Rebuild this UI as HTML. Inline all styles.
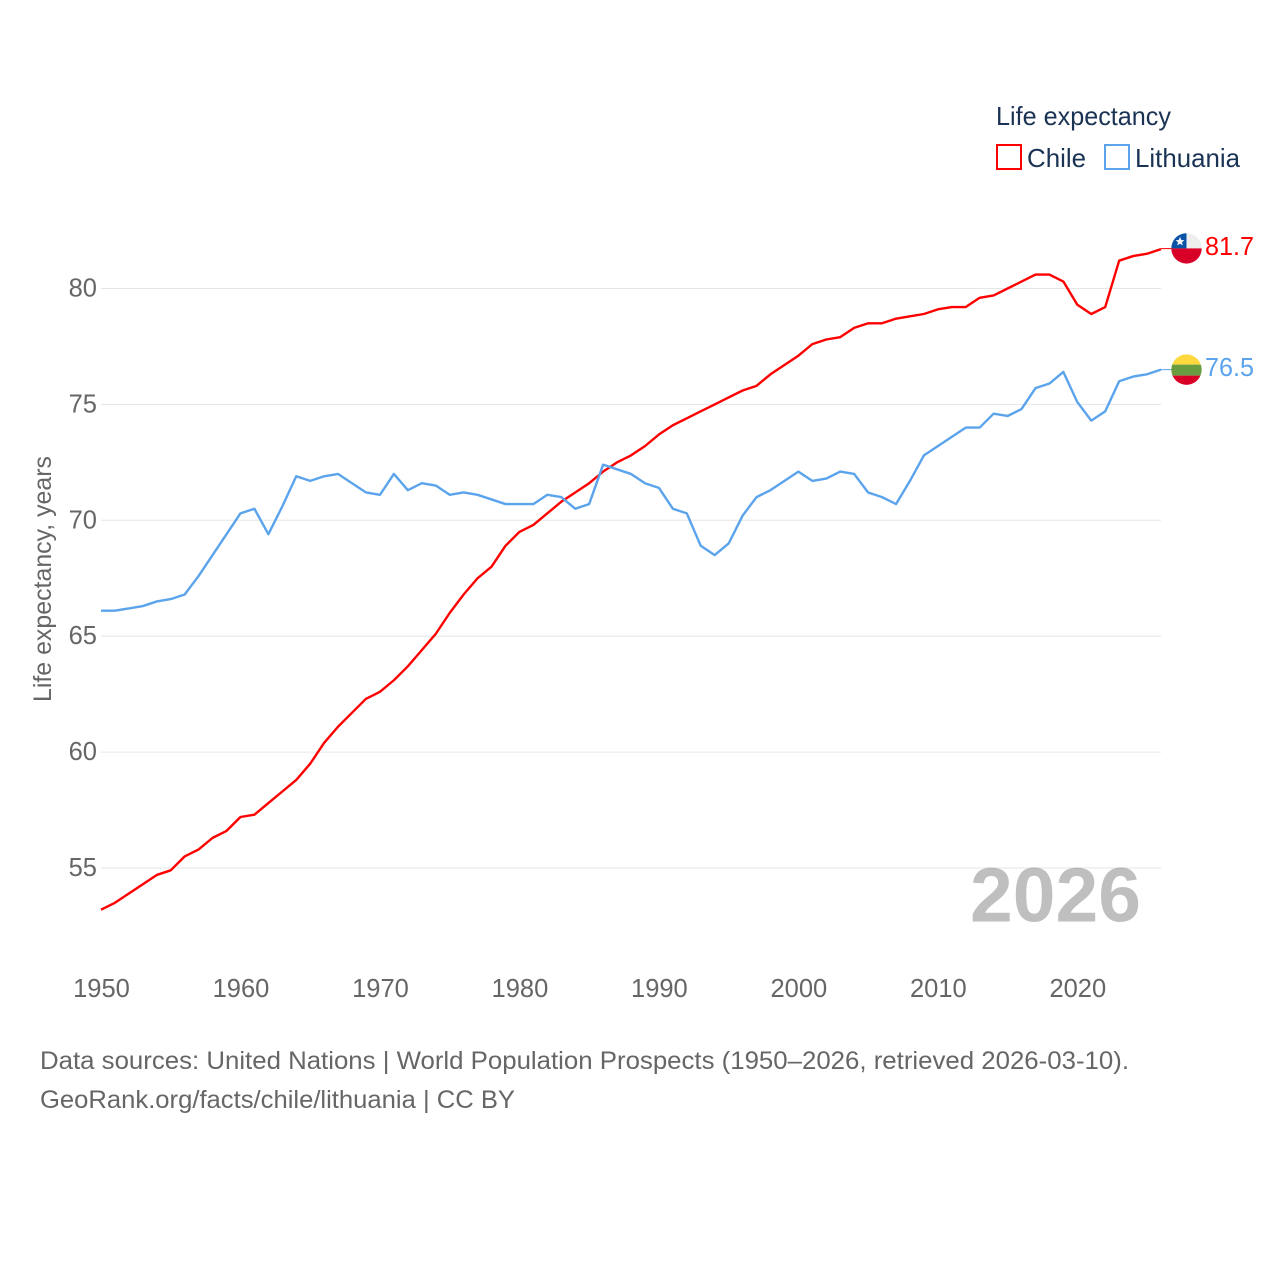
<!DOCTYPE html>
<html lang="en">
<head>
<meta charset="utf-8">
<title>Life expectancy: Chile and Lithuania</title>
<style>
html,body{margin:0;padding:0;background:#fff;}
#chart{display:block;width:1280px;height:1280px;font-family:"Liberation Sans",sans-serif;}
</style>
</head>
<body>
<svg id="chart" xmlns="http://www.w3.org/2000/svg" width="1280" height="1280" viewBox="0 0 1280 1280">
  <defs>
    <clipPath id="flag-clip"><circle cx="0" cy="0" r="15.2"></circle></clipPath>
  </defs>
  <rect x="0" y="0" width="1280" height="1280" fill="#fff"></rect>
  <g id="grid"></g>
  <g id="y-ticks"></g>
  <g id="x-ticks"></g>
  <text transform="translate(51,702) rotate(-90)" font-size="25" fill="#666" textLength="246" lengthAdjust="spacingAndGlyphs">Life expectancy, years</text>
  <text x="970" y="921.5" font-size="77" font-weight="700" fill="#000" fill-opacity="0.25" textLength="171" lengthAdjust="spacingAndGlyphs">2026</text>
  <g id="series"></g>

  <g id="flag-chile">
    <g clip-path="url(#flag-clip)">
      <rect x="-16" y="-16" width="32" height="16" fill="#eeeeee"></rect>
      <rect x="-16" y="-16" width="16" height="16" fill="#0a52a5"></rect>
      <rect x="-16" y="0" width="32" height="16" fill="#d80027"></rect>
      <polygon points="-6.5,-11.5 -5.2,-8.4 -2,-8.2 -4.5,-6.1 -3.7,-3 -6.5,-4.7 -9.3,-3 -8.5,-6.1 -11,-8.2 -7.8,-8.4" fill="#f4f4f4"></polygon>
    </g>
  </g>
  <g id="flag-lithuania">
    <g clip-path="url(#flag-clip)">
      <rect x="-16" y="-16" width="32" height="11" fill="#fdd83f"></rect>
      <rect x="-16" y="-5" width="32" height="11" fill="#6a9d3f"></rect>
      <rect x="-16" y="6" width="32" height="10" fill="#d80027"></rect>
    </g>
  </g>
  <text id="value-chile" x="1205" font-size="26" fill="#ff0000" textLength="49" lengthAdjust="spacingAndGlyphs"></text>
  <text id="value-lithuania" x="1205" font-size="26" fill="#5ba4ec" textLength="49" lengthAdjust="spacingAndGlyphs"></text>

  <g>
    <text x="996" y="125" font-size="26" fill="#1a3354" textLength="175" lengthAdjust="spacingAndGlyphs">Life expectancy</text>
    <g>
      <rect x="997" y="145" width="24" height="24" fill="#fff" stroke="#ff0000" stroke-width="2"></rect>
      <text x="1027" y="167" font-size="26" fill="#1a3354" textLength="59" lengthAdjust="spacingAndGlyphs">Chile</text>
    </g>
    <g>
      <rect x="1105" y="145" width="24" height="24" fill="#fff" stroke="#5ba4ec" stroke-width="2"></rect>
      <text x="1135" y="167" font-size="26" fill="#1a3354" textLength="105" lengthAdjust="spacingAndGlyphs">Lithuania</text>
    </g>
  </g>

  <text x="40" y="1069" font-size="25" fill="#666" textLength="1089" lengthAdjust="spacingAndGlyphs">Data sources: United Nations | World Population Prospects (1950–2026, retrieved 2026-03-10).</text>
  <text x="40" y="1108" font-size="25" fill="#666" textLength="475" lengthAdjust="spacingAndGlyphs">GeoRank.org/facts/chile/lithuania | CC BY</text>
</svg>
<script>
const firstYear = 1950;
const lastYear = 2026;
const xTickLabels = [1950,1960,1970,1980,1990,2000,2010,2020];
const yTickLabels = [55,60,65,70,75,80];
const chileValues = [
53.2,53.5,53.9,54.3,54.7,54.9,55.5,55.8,56.3,56.6,
57.2,57.3,57.8,58.3,58.8,59.5,60.4,61.1,61.7,62.3,
62.6,63.1,63.7,64.4,65.1,66.0,66.8,67.5,68.0,68.9,
69.5,69.8,70.3,70.8,71.2,71.6,72.1,72.5,72.8,73.2,
73.7,74.1,74.4,74.7,75.0,75.3,75.6,75.8,76.3,76.7,
77.1,77.6,77.8,77.9,78.3,78.5,78.5,78.7,78.8,78.9,
79.1,79.2,79.2,79.6,79.7,80.0,80.3,80.6,80.6,80.3,
79.3,78.9,79.2,81.2,81.4,81.5,81.7];
const lithuaniaValues = [
66.1,66.1,66.2,66.3,66.5,66.6,66.8,67.6,68.5,69.4,
70.3,70.5,69.4,70.6,71.9,71.7,71.9,72.0,71.6,71.2,
71.1,72.0,71.3,71.6,71.5,71.1,71.2,71.1,70.9,70.7,
70.7,70.7,71.1,71.0,70.5,70.7,72.4,72.2,72.0,71.6,
71.4,70.5,70.3,68.9,68.5,69.0,70.2,71.0,71.3,71.7,
72.1,71.7,71.8,72.1,72.0,71.2,71.0,70.7,71.7,72.8,
73.2,73.6,74.0,74.0,74.6,74.5,74.8,75.7,75.9,76.4,
75.1,74.3,74.7,76.0,76.2,76.3,76.5];

const NS = 'http://www.w3.org/2000/svg';
const plotLeft = 101, plotRight = 1161;
function xScale(year){ return plotLeft + (year - firstYear) * (plotRight - plotLeft) / (lastYear - firstYear); }
function yScale(value){ return 288.5 + (80 - value) * (868 - 288.5) / 25; }

const gridGroup = document.getElementById('grid');
const yTickGroup = document.getElementById('y-ticks');
const xTickGroup = document.getElementById('x-ticks');
const seriesGroup = document.getElementById('series');

yTickLabels.forEach(function(v){
  const line = document.createElementNS(NS,'line');
  
  
  line.setAttribute('x1', plotLeft);
  line.setAttribute('x2', plotRight);
  line.setAttribute('y1', yScale(v));
  line.setAttribute('y2', yScale(v));
  line.setAttribute('stroke', '#e6e6e6');
  line.setAttribute('stroke-width', '1');
  gridGroup.appendChild(line);
  const t = document.createElementNS(NS,'text');
  
  
  t.setAttribute('x', 97);
  t.setAttribute('y', yScale(v) + 8);
  t.setAttribute('text-anchor', 'end');
  t.setAttribute('font-size', '25.5');
  t.setAttribute('fill', '#666');
  t.textContent = v;
  yTickGroup.appendChild(t);
});

xTickLabels.forEach(function(yr){
  const t = document.createElementNS(NS,'text');
  
  
  t.setAttribute('x', xScale(yr) + 0.5);
  t.setAttribute('y', 997);
  t.setAttribute('text-anchor', 'middle');
  t.setAttribute('font-size', '25.5');
  t.setAttribute('fill', '#666');
  t.textContent = yr;
  xTickGroup.appendChild(t);
});

function pathFrom(values){
  return values.map(function(v,i){
    return (i ? 'L' : 'M') + xScale(firstYear + i).toFixed(2) + ' ' + yScale(v).toFixed(2);
  }).join(' ');
}

const chileLine = document.createElementNS(NS,'path');


chileLine.setAttribute('d', pathFrom(chileValues));
chileLine.setAttribute('fill', 'none');
chileLine.setAttribute('stroke', '#ff0000');
chileLine.setAttribute('stroke-width', '2.4');
chileLine.setAttribute('stroke-linejoin', 'round');
seriesGroup.appendChild(chileLine);

const lithuaniaLine = document.createElementNS(NS,'path');


lithuaniaLine.setAttribute('d', pathFrom(lithuaniaValues));
lithuaniaLine.setAttribute('fill', 'none');
lithuaniaLine.setAttribute('stroke', '#5ba4ec');
lithuaniaLine.setAttribute('stroke-width', '2.4');
lithuaniaLine.setAttribute('stroke-linejoin', 'round');
seriesGroup.appendChild(lithuaniaLine);

const chileLast = chileValues[chileValues.length - 1];
const lithuaniaLast = lithuaniaValues[lithuaniaValues.length - 1];

const chileConnector = document.createElementNS(NS,'line');


chileConnector.setAttribute('x1', plotRight);
chileConnector.setAttribute('x2', 1172);
chileConnector.setAttribute('y1', yScale(chileLast) - 0.5);
chileConnector.setAttribute('y2', yScale(chileLast) - 0.5);
chileConnector.setAttribute('stroke', '#ff0000');
chileConnector.setAttribute('stroke-width', '1');
seriesGroup.appendChild(chileConnector);

const lithuaniaConnector = document.createElementNS(NS,'line');


lithuaniaConnector.setAttribute('x1', plotRight);
lithuaniaConnector.setAttribute('x2', 1172);
lithuaniaConnector.setAttribute('y1', yScale(lithuaniaLast));
lithuaniaConnector.setAttribute('y2', yScale(lithuaniaLast));
lithuaniaConnector.setAttribute('stroke', '#5ba4ec');
lithuaniaConnector.setAttribute('stroke-width', '1');
seriesGroup.appendChild(lithuaniaConnector);

document.getElementById('flag-chile').setAttribute('transform', 'translate(1186.5,' + (yScale(chileLast) - 0.7) + ')');
document.getElementById('flag-lithuania').setAttribute('transform', 'translate(1186.5,' + yScale(lithuaniaLast) + ')');

const chileValueLabel = document.getElementById('value-chile');
chileValueLabel.setAttribute('y', yScale(chileLast) + 6);
chileValueLabel.textContent = chileLast.toFixed(1);
const lithuaniaValueLabel = document.getElementById('value-lithuania');
lithuaniaValueLabel.setAttribute('y', yScale(lithuaniaLast) + 6.5);
lithuaniaValueLabel.textContent = lithuaniaLast.toFixed(1);
</script>
</body>
</html>
